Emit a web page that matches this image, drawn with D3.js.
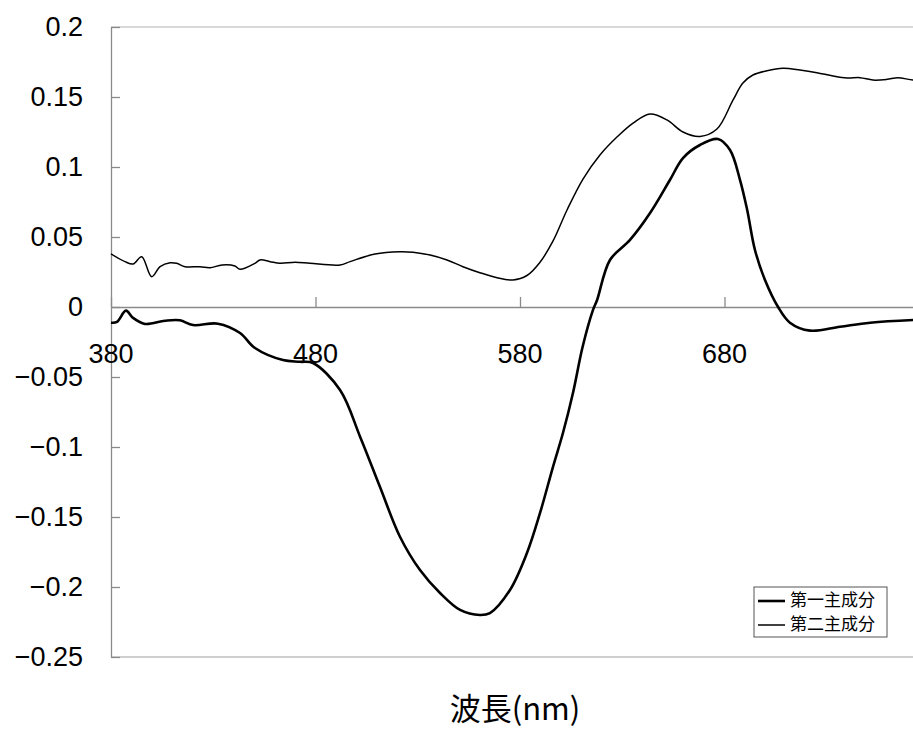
<!DOCTYPE html>
<html>
<head>
<meta charset="utf-8">
<script src="https://cdn.jsdelivr.net/npm/d3@7"></script>
<style>
  body { margin: 0; background: #fff; }
  svg { display: block; }
</style>
</head>
<body>
<svg id="chart" width="913" height="731"></svg>
<script>
// wavelength (nm) and scores
const pc1Wavelength = [380, 382.9, 387.3, 390.8, 396.6, 406.4, 413.7, 420.1, 432.3, 443.1, 450.4, 464.1, 472.4, 478.8,
  492, 501.8, 511.5, 521.3, 531.1, 540.9, 550.7, 560.4, 565.3, 575.1, 583.4, 589.8, 596.1, 601, 605.9, 610.6,
  615.7, 617.7, 624, 633.8, 643.6, 653.3, 659.7, 668, 676.8, 682.7, 687.6, 691, 694.9, 699.8, 706.2, 712,
  721.8, 736.5, 751.2, 772.2, 780];
const pc1Values = [-0.0112, -0.0107, -0.0026, -0.0078, -0.0121, -0.0098, -0.0095, -0.0129, -0.0119, -0.0186, -0.0293,
  -0.0379, -0.0391, -0.0400, -0.0593, -0.0926, -0.1284, -0.1641, -0.1879, -0.2043, -0.2164, -0.2200, -0.2186,
  -0.2021, -0.1757, -0.1471, -0.1143, -0.0900, -0.0614, -0.0286, -0.0021, 0.0050, 0.0336, 0.0479, 0.0671,
  0.0907, 0.1064, 0.1157, 0.1200, 0.1121, 0.0907, 0.0700, 0.0407, 0.0193, 0.0000, -0.0112, -0.0169, -0.0141,
  -0.0112, -0.0093, -0.0090];

const pc2Wavelength = [380, 386.8, 390.8, 395, 399.9, 404, 408.9, 412.1, 416.2, 423.5, 428.4, 434.3, 440.6, 443.1,
  450.4, 452.9, 457.8, 462.6, 470, 477.3, 492, 496.9, 509.1, 521.3, 527.7, 536, 544.3, 552.1, 560.4, 568.8,
  576.6, 583.4, 589.8, 596.1, 603, 610.8, 619.1, 627.4, 635.3, 643.6, 651.9, 659.7, 668, 676.3, 684.2, 689,
  693.9, 700.8, 708.6, 716.9, 725.2, 733.1, 739.9, 746.3, 752.6, 759.5, 764.8, 772.2, 780];
const pc2Values = [0.0379, 0.0324, 0.0307, 0.0359, 0.0216, 0.0288, 0.0316, 0.0312, 0.0288, 0.0288, 0.0281, 0.0300,
  0.0293, 0.0269, 0.0312, 0.0336, 0.0324, 0.0312, 0.0319, 0.0312, 0.0300, 0.0324, 0.0379, 0.0395, 0.0391,
  0.0371, 0.0336, 0.0288, 0.0245, 0.0209, 0.0193, 0.0225, 0.0320, 0.0470, 0.0693, 0.0914, 0.1086, 0.1214,
  0.1314, 0.1379, 0.1336, 0.1250, 0.1218, 0.1271, 0.1479, 0.1600, 0.1657, 0.1688, 0.1705, 0.1693, 0.1674,
  0.1650, 0.1636, 0.1638, 0.1621, 0.1626, 0.1638, 0.1621, 0.1620];

const xTicks = [380, 480, 580, 680, 780];
const xTickLabels = [380, 480, 580, 680];
const yTicks = [0.2, 0.15, 0.1, 0.05, 0, -0.05, -0.1, -0.15, -0.2, -0.25];
const seriesNames = ["第一主成分", "第二主成分"];

const svg = d3.select("#chart");
const plotLeft = 111, plotRight = 929, plotTop = 27, plotBottom = 657;

const x = d3.scaleLinear().domain([380, 780]).range([plotLeft, plotRight]);
const y = d3.scaleLinear().domain([-0.25, 0.2]).range([plotBottom, plotTop]);

const axisColor = "#8a8a8a";
const numFont = "'Liberation Sans', Arial, sans-serif";
const jpFont = "'Noto Sans CJK JP', sans-serif";

// frame: top and bottom
svg.append("line").attr("x1", plotLeft).attr("x2", plotRight).attr("y1", plotTop).attr("y2", plotTop)
  .attr("stroke", "#b4b4b4").attr("stroke-width", 1.2);
svg.append("line").attr("x1", plotLeft).attr("x2", plotRight).attr("y1", plotBottom).attr("y2", plotBottom)
  .attr("stroke", "#a0a0a0").attr("stroke-width", 1.2);

// y axis, ticks pointing inward
const yAxis = svg.append("g")
  .attr("transform", `translate(${plotLeft},0)`)
  .call(d3.axisRight(y).tickValues(yTicks).tickSize(9).tickSizeOuter(0).tickFormat(""));
yAxis.select(".domain").attr("stroke", axisColor).attr("stroke-width", 1.3);
yAxis.selectAll(".tick line").attr("stroke", axisColor).attr("stroke-width", 1.3);

svg.append("g").selectAll("text")
  .data(yTicks)
  .join("text")
  .attr("x", 83)
  .attr("y", d => y(d) + 2)
  .attr("text-anchor", "end")
  .attr("dominant-baseline", "middle")
  .style("font-family", numFont)
  .style("font-size", "27px")
  .attr("fill", "#000")
  .text(d => d < 0 ? "\u2212" + d3.format("")(-d) : d3.format("")(d));

// x axis on zero line, ticks pointing up
const xAxis = svg.append("g")
  .attr("transform", `translate(0,${y(0)})`)
  .call(d3.axisTop(x).tickValues(xTicks).tickSize(10).tickSizeOuter(0).tickFormat(""));
xAxis.select(".domain").attr("stroke", axisColor).attr("stroke-width", 1.3);
xAxis.selectAll(".tick line").attr("stroke", axisColor).attr("stroke-width", 1.3);

svg.append("g").selectAll("text")
  .data(xTickLabels)
  .join("text")
  .attr("x", d => x(d))
  .attr("y", y(0) + 56)
  .attr("text-anchor", "middle")
  .style("font-family", numFont)
  .style("font-size", "27px")
  .attr("fill", "#000")
  .text(d => d);

// lines
const line = d3.line()
  .x(d => x(d[0]))
  .y(d => y(d[1]))
  .curve(d3.curveCatmullRom.alpha(0.5));

const pc1 = pc1Wavelength.map((w, i) => [w, pc1Values[i]]);
const pc2 = pc2Wavelength.map((w, i) => [w, pc2Values[i]]);

svg.append("path").datum(pc2)
  .attr("d", line).attr("fill", "none").attr("stroke", "#000").attr("stroke-width", 1.5);
svg.append("path").datum(pc1)
  .attr("d", line).attr("fill", "none").attr("stroke", "#000").attr("stroke-width", 2.6);

// axis title
svg.append("text")
  .attr("x", 515)
  .attr("y", 720)
  .attr("text-anchor", "middle")
  .style("font-family", jpFont)
  .style("font-size", "31px")
  .attr("fill", "#000")
  .text("波長(nm)");

// legend
const legend = svg.append("g").attr("transform", "translate(754,587)");
legend.append("rect")
  .attr("width", 133).attr("height", 50)
  .attr("fill", "#fff").attr("stroke", "#555").attr("stroke-width", 1);
const rows = legend.selectAll("g.row")
  .data(seriesNames)
  .join("g")
  .attr("class", "row")
  .attr("transform", (d, i) => `translate(0,${14 + i * 24})`);
rows.append("line")
  .attr("x1", 4).attr("x2", 31).attr("y1", 0).attr("y2", 0)
  .attr("stroke", "#000").attr("stroke-width", (d, i) => i === 0 ? 2.6 : 1.5);
rows.append("text")
  .attr("x", 36).attr("y", 0)
  .attr("dominant-baseline", "middle")
  .style("font-family", jpFont)
  .style("font-size", "17px")
  .attr("fill", "#000")
  .text(d => d);
</script>
</body>
</html>
